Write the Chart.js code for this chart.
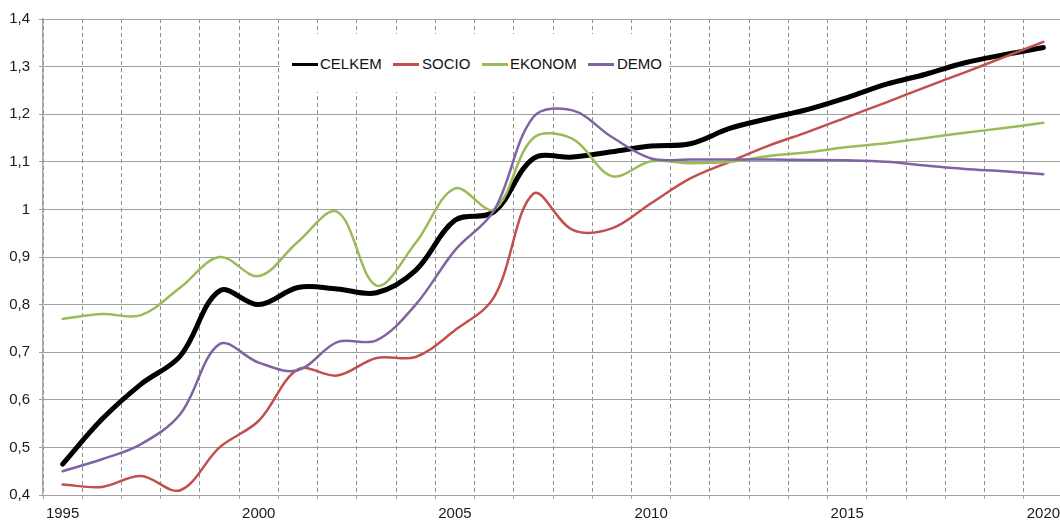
<!DOCTYPE html>
<html>
<head>
<meta charset="utf-8">
<script src="https://cdn.jsdelivr.net/npm/chart.js@4/dist/chart.umd.min.js"></script>
<style>
  html, body { margin: 0; padding: 0; background: #fff; overflow: hidden; }
  #wrap { position: relative; width: 1060px; height: 524px; overflow: hidden; }
  #c { position: absolute; left: 0; top: 0; }
  #legend { position: absolute; left: 280px; top: 34px; width: 389px; height: 58px; background: #fff; }
  .lg-line { position: absolute; height: 3px; top: 28.5px; }
  .lg-text { position: absolute; top: 21px; height: 17px; line-height: 17px; font: 15px "Liberation Sans", Arial, sans-serif; color: #111; white-space: nowrap; }
</style>
</head>
<body>
<div id="wrap">
  <canvas id="c" width="1070" height="524"></canvas>
  <div id="legend"></div>
</div>
<script>
const years = ['1995','1996','1997','1998','1999','2000','2001','2002','2003','2004','2005','2006','2007','2008','2009','2010','2011','2012','2013','2014','2015','2016','2017','2018','2019','2020'];
const celkem = [0.465,0.559,0.633,0.692,0.829,0.800,0.836,0.833,0.825,0.872,0.977,0.995,1.107,1.110,1.121,1.133,1.138,1.170,1.191,1.210,1.235,1.263,1.284,1.308,1.325,1.340];
const socio  = [0.422,0.417,0.440,0.410,0.500,0.556,0.664,0.651,0.688,0.690,0.746,0.816,1.033,0.957,0.960,1.013,1.065,1.100,1.134,1.163,1.194,1.225,1.257,1.288,1.320,1.352];
const ekonom = [0.770,0.780,0.778,0.836,0.900,0.860,0.932,0.995,0.840,0.930,1.044,1.000,1.150,1.148,1.070,1.101,1.097,1.100,1.112,1.120,1.131,1.139,1.150,1.161,1.171,1.182];
const demo   = [0.450,0.475,0.507,0.570,0.717,0.678,0.662,0.721,0.725,0.800,0.914,0.998,1.194,1.208,1.152,1.107,1.105,1.105,1.105,1.104,1.103,1.100,1.092,1.085,1.080,1.074];
const seriesNames = ['CELKEM','SOCIO','EKONOM','DEMO'];
const seriesColors = ['#000000','#C0504D','#9BBB59','#8064A2'];
const yMin = 0.4, yMax = 1.4, yStep = 0.1;

const FONT = '"Liberation Sans", Arial, sans-serif';
const widths = [5, 2.5, 2.5, 2.5];
const allData = [celkem, socio, ekonom, demo];

new Chart(document.getElementById('c'), {
  type: 'line',
  data: {
    labels: years,
    datasets: allData.map((d, i) => ({
      label: seriesNames[i],
      data: d,
      borderColor: seriesColors[i],
      backgroundColor: seriesColors[i],
      borderWidth: widths[i],
      pointRadius: 0,
      tension: 0.35,
      fill: false,
      borderCapStyle: 'round',
      borderJoinStyle: 'round',
      order: 4 - i
    }))
  },
  options: {
    responsive: false,
    animation: false,
    layout: { padding: { left: 0, top: 19, right: 7, bottom: 0 } },
    plugins: { legend: { display: false }, tooltip: { enabled: false } },
    scales: {
      x: {
        type: 'category',
        offset: true,
        afterFit: s => { s.height = 29; },
        grid: {
          offset: true,
          color: '#8f8f8f',
          lineWidth: 1,
          tickBorderDash: [],
          tickColor: '#a0a0a0',
          tickLength: 4
        },
        border: { display: true, color: '#a0a0a0', width: 1, dash: [4, 3] },
        ticks: {
          autoSkip: false,
          maxRotation: 0,
          padding: 6,
          color: '#1a1a1a',
          font: { family: FONT, size: 15 },
          callback: function (v) {
            const l = this.getLabelForValue(v);
            return (+l) % 5 === 0 ? l : '';
          }
        }
      },
      y: {
        min: yMin,
        max: yMax,
        afterFit: s => { s.width = 43; },
        grid: { color: '#a0a0a0', lineWidth: 1, tickLength: 4, tickColor: '#a0a0a0' },
        border: { display: true, color: '#a6a6a6', width: 1.5 },
        ticks: {
          stepSize: yStep,
          padding: 9,
          color: '#1a1a1a',
          font: { family: FONT, size: 15 },
          callback: v => String(Math.round(v * 10) / 10).replace('.', ',')
        }
      }
    }
  }
});

// legend (HTML text)
const lg = document.getElementById('legend');
const lineX = [12, 113, 202, 308];   // relative to legend box
const textX = [40, 142, 230, 337];
seriesNames.forEach((n, i) => {
  const ln = document.createElement('div');
  ln.className = 'lg-line';
  ln.style.left = lineX[i] + 'px';
  ln.style.width = '26px';
  ln.style.background = seriesColors[i];
  lg.appendChild(ln);
  const t = document.createElement('div');
  t.className = 'lg-text';
  t.style.left = textX[i] + 'px';
  t.textContent = n;
  lg.appendChild(t);
});
</script>
</body>
</html>
